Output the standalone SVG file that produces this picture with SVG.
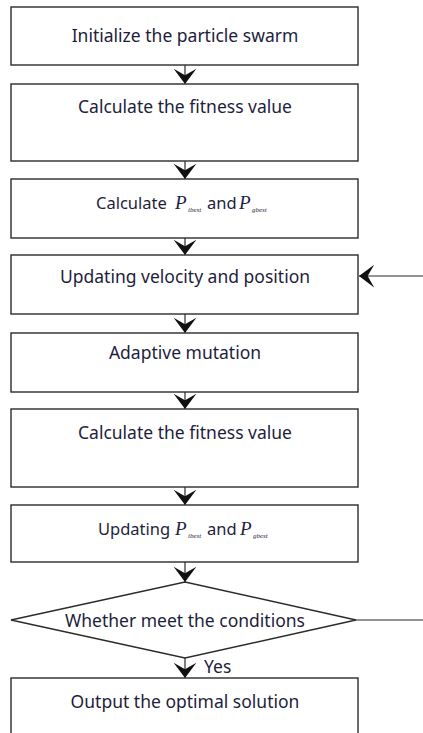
<svg xmlns="http://www.w3.org/2000/svg" width="423" height="733" viewBox="0 0 423 733">
  <style>
    .box { fill: #ffffff; stroke: #2b2b2b; stroke-width: 1.4; }
    .lbl { font-family: "Noto Sans", "DejaVu Sans", sans-serif; font-size: 17.5px; fill: #1e1e3c; text-anchor: middle; }
    .lbl2 { font-family: "Noto Sans", "DejaVu Sans", sans-serif; font-size: 16.5px; fill: #1e1e3c; }
    .sym { font-family: "Liberation Serif", serif; font-style: italic; font-size: 19px; }
    .sub { font-family: "Liberation Serif", serif; font-style: italic; font-size: 7px; }
    .edge { fill: none; stroke: #2b2b2b; stroke-width: 1.2; marker-end: url(#head); }
    .plain { fill: none; stroke: #2b2b2b; stroke-width: 1.2; }
  </style>
  <defs>
    <marker id="head" markerUnits="userSpaceOnUse" markerWidth="24" markerHeight="26" viewBox="-16 -12 18 24" refX="0" refY="0" orient="auto">
      <path d="M0,0 L-14,-10.5 L-8,0 L-14,10.5 Z" fill="#111111"/>
    </marker>
  </defs>

  <rect width="423" height="733" fill="#ffffff"/>

  <g id="connectors">
    <line class="edge" x1="185" y1="65" x2="185" y2="84"/>
    <line class="edge" x1="185" y1="161" x2="185" y2="179"/>
    <line class="edge" x1="185" y1="238" x2="185" y2="255"/>
    <line class="edge" x1="185" y1="314" x2="185" y2="333"/>
    <line class="edge" x1="185" y1="392" x2="185" y2="409"/>
    <line class="edge" x1="185" y1="487" x2="185" y2="505"/>
    <line class="edge" x1="185" y1="562" x2="185" y2="582"/>
    <line class="edge" x1="185" y1="658" x2="185" y2="678"/>
    <line class="plain" x1="356" y1="620" x2="423" y2="620"/>
    <line class="edge" x1="423" y1="276" x2="359" y2="276"/>
    <text class="lbl2" x="204" y="673" style="font-size:17.5px">Yes</text>
  </g>

  <g id="init">
    <rect class="box" x="11" y="7" width="347" height="58"/>
    <text class="lbl" x="185" y="42">Initialize the particle swarm</text>
  </g>

  <g id="fitness1">
    <rect class="box" x="11" y="84" width="347" height="77"/>
    <text class="lbl" x="185" y="113">Calculate the fitness value</text>
  </g>

  <g id="calc-best">
    <rect class="box" x="11" y="179" width="347" height="59"/>
    <text class="lbl2" x="96" y="209">Calculate<tspan class="sym" x="175">P</tspan><tspan class="sub" x="188" dy="3">ibest</tspan><tspan x="207" dy="-3">and</tspan><tspan class="sym" x="239">P</tspan><tspan class="sub" x="252" dy="3">gbest</tspan></text>
  </g>

  <g id="update-vp">
    <rect class="box" x="11" y="255" width="347" height="59"/>
    <text class="lbl" x="185" y="283">Updating velocity and position</text>
  </g>

  <g id="mutation">
    <rect class="box" x="11" y="333" width="347" height="59"/>
    <text class="lbl" x="185" y="359">Adaptive mutation</text>
  </g>

  <g id="fitness2">
    <rect class="box" x="11" y="409" width="347" height="78"/>
    <text class="lbl" x="185" y="439">Calculate the fitness value</text>
  </g>

  <g id="update-best">
    <rect class="box" x="11" y="505" width="347" height="57"/>
    <text class="lbl2" x="98" y="535">Updating<tspan class="sym" x="175">P</tspan><tspan class="sub" x="188" dy="3">ibest</tspan><tspan x="207" dy="-3">and</tspan><tspan class="sym" x="240">P</tspan><tspan class="sub" x="253" dy="3">gbest</tspan></text>
  </g>

  <g id="check">
    <polygon class="box" points="185,582 356,620 185,658 11,620"/>
    <text class="lbl" x="185" y="627">Whether meet the conditions</text>
  </g>

  <g id="output">
    <rect class="box" x="11" y="678" width="347" height="70"/>
    <text class="lbl" x="185" y="708">Output the optimal solution</text>
  </g>
</svg>
